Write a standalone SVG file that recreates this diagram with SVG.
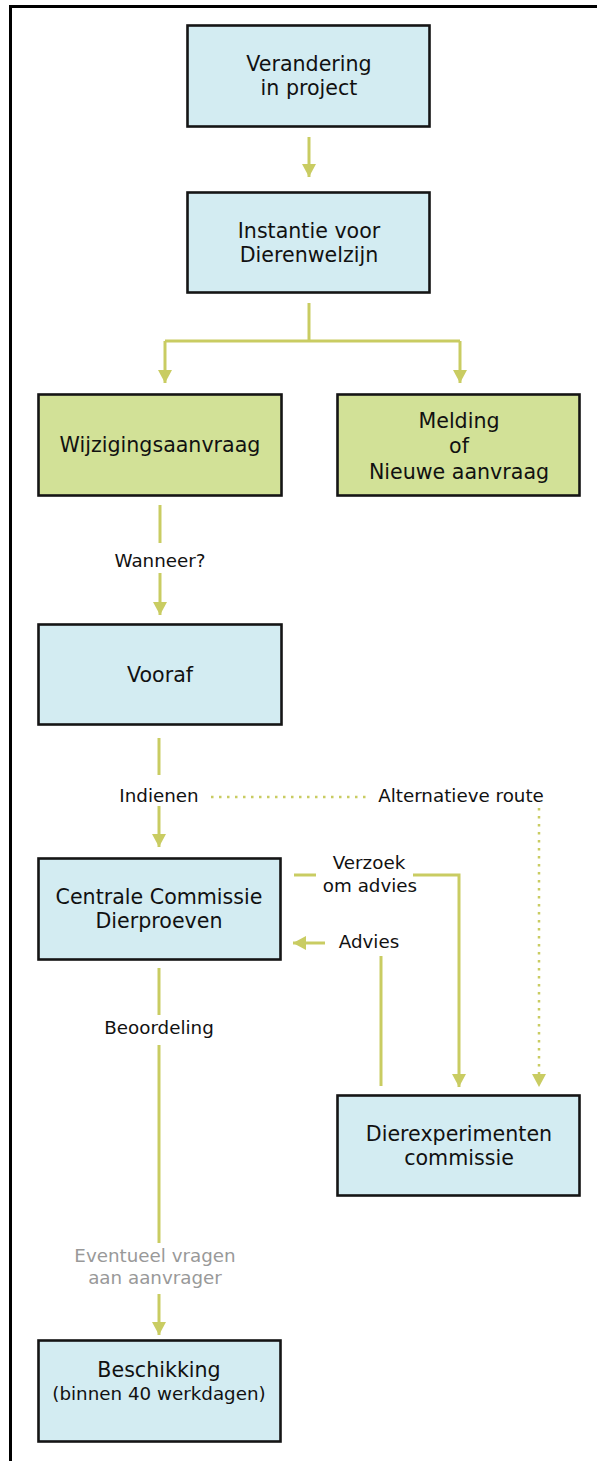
<svg xmlns="http://www.w3.org/2000/svg" width="597" height="1461" viewBox="0 0 597 1461">
<style>
.box{stroke:#151515;stroke-width:2.6}
.blue{fill:#d3ecf2}
.green{fill:#d2e197}
.t{font-family:"DejaVu Sans",Verdana,sans-serif;font-size:20.6px;fill:#111;text-anchor:middle}
.l{font-family:"DejaVu Sans",Verdana,sans-serif;font-size:18.3px;fill:#111;text-anchor:middle}
.g{fill:#999}
.c{fill:none;stroke:#c9cc62;stroke-width:3}
.d{fill:none;stroke:#c9cc62;stroke-width:2.5;stroke-dasharray:2.5 5.5}
</style>
<defs>
<marker id="ah" markerUnits="userSpaceOnUse" markerWidth="16" markerHeight="16" viewBox="0 0 16 16" refX="13" refY="8" orient="auto">
<path d="M0,1 L13,8 L0,15 Z" fill="#c9cc62"/>
</marker>
</defs>
<rect width="597" height="1461" fill="#fff"/>
<path d="M10.5,1461 V6.5 H597" fill="none" stroke="#000" stroke-width="3"/>

<g id="connectors">
<path class="c" d="M309,137 V177" marker-end="url(#ah)"/>
<path class="c" d="M309,303 V341"/>
<path class="c" d="M165,341 H460"/>
<path class="c" d="M165,341 V383" marker-end="url(#ah)"/>
<path class="c" d="M460,341 V383" marker-end="url(#ah)"/>
<path class="c" d="M160,505 V543"/>
<path class="c" d="M160,573 V615" marker-end="url(#ah)"/>
<path class="c" d="M159,738 V775"/>
<path class="c" d="M159,806 V847" marker-end="url(#ah)"/>
<path class="d" d="M211,797 H370"/>
<path class="d" d="M539,808 V1087" marker-end="url(#ah)"/>
<path class="c" d="M294,875 H316"/>
<path class="c" d="M413,875 H459 V1087" marker-end="url(#ah)"/>
<path class="c" d="M325,943 H293" marker-end="url(#ah)"/>
<path class="c" d="M381,956 V1086"/>
<path class="c" d="M159,968 V1015"/>
<path class="c" d="M159,1045 V1243"/>
<path class="c" d="M159,1294 V1335" marker-end="url(#ah)"/>
</g>

<g id="labels">
<text class="l" x="160" y="567">Wanneer?</text>
<text class="l" x="159" y="802">Indienen</text>
<text class="l" x="461" y="802">Alternatieve route</text>
<text class="l" x="369" y="869">Verzoek</text>
<text class="l" x="370" y="892">om advies</text>
<text class="l" x="369" y="948">Advies</text>
<text class="l" x="159" y="1034">Beoordeling</text>
<text class="l g" x="155" y="1262">Eventueel vragen</text>
<text class="l g" x="155" y="1284">aan aanvrager</text>
</g>

<g id="n1">
<rect class="box blue" x="187.5" y="25.5" width="242" height="101"/>
<text class="t" x="309" y="71">Verandering</text>
<text class="t" x="309" y="95">in project</text>
</g>
<g id="n2">
<rect class="box blue" x="187.5" y="192.5" width="242" height="100"/>
<text class="t" x="309" y="238">Instantie voor</text>
<text class="t" x="309" y="262">Dierenwelzijn</text>
</g>
<g id="n3">
<rect class="box green" x="38.5" y="394.5" width="243" height="101"/>
<text class="t" x="160" y="452">Wijzigingsaanvraag</text>
</g>
<g id="n4">
<rect class="box green" x="337.5" y="394.5" width="242" height="101"/>
<text class="t" x="459" y="428">Melding</text>
<text class="t" x="459" y="453">of</text>
<text class="t" x="459" y="479">Nieuwe aanvraag</text>
</g>
<g id="n5">
<rect class="box blue" x="38.5" y="624.5" width="243" height="100"/>
<text class="t" x="160" y="682">Vooraf</text>
</g>
<g id="n6">
<rect class="box blue" x="38.5" y="858.5" width="242" height="101"/>
<text class="t" x="159" y="904">Centrale Commissie</text>
<text class="t" x="159" y="928">Dierproeven</text>
</g>
<g id="n7">
<rect class="box blue" x="337.5" y="1095.5" width="242" height="100"/>
<text class="t" x="459" y="1141">Dierexperimenten</text>
<text class="t" x="459" y="1165">commissie</text>
</g>
<g id="n8">
<rect class="box blue" x="38.5" y="1340.5" width="242" height="101"/>
<text class="t" x="159" y="1377">Beschikking</text>
<text class="l" x="159" y="1400">(binnen 40 werkdagen)</text>
</g>
</svg>
